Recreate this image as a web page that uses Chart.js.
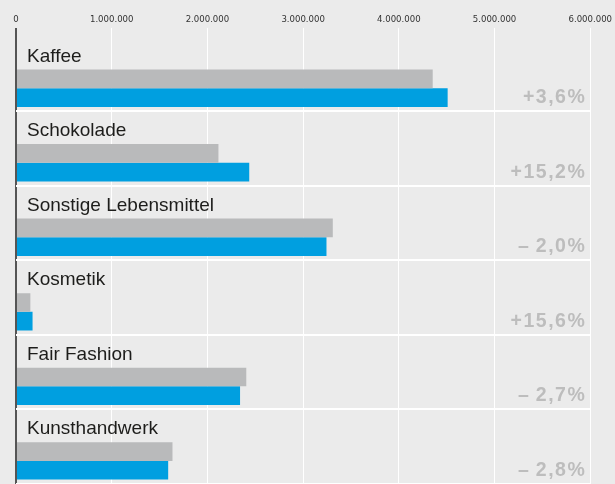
<!DOCTYPE html>
<html lang="de">
<head>
<meta charset="utf-8">
<title>Umsatz nach Produktgruppen</title>
<script src="https://cdn.jsdelivr.net/npm/chart.js@4.4.1/dist/chart.umd.min.js"></script>
<style>
	html, body { margin: 0; padding: 0; background: #ebebeb; }
	#wrap { position: relative; width: 615px; height: 484px; }
</style>
</head>
<body>
<div id="wrap"><canvas id="barChart"></canvas></div>
<script>
'use strict';

// Produktgruppen
var categories = ['Kaffee', 'Schokolade', 'Sonstige Lebensmittel', 'Kosmetik', 'Fair Fashion', 'Kunsthandwerk'];
// Vorjahr (grau) und aktuelles Jahr (blau)
var valuesPrev = [4354000, 2115000, 3310000, 150000, 2406000, 1635000];
var valuesCurr = [4510000, 2437000, 3244000, 173000, 2341000, 1590000];
// Veränderung in Prozent
var changes = [3.6, 15.2, -2.0, 15.6, -2.7, -2.8];
var tickValues = [0, 1000000, 2000000, 3000000, 4000000, 5000000, 6000000];

function formatNumber(value)
{
	return String(value).replace(/\B(?=(\d{3})+(?!\d))/g, '.');
}

function formatChange(value)
{
	var txt = Math.abs(value).toFixed(1).replace('.', ',') + '%';
	return (value > 0 ? '+' : '\u2013\u2009') + txt;
}

// category names at the top of each row, change in percent at the bottom right
var rowLabels =
{
	id: 'rowLabels',
	afterDatasetsDraw: function(chart)
	{
		var ctx = chart.ctx;
		var yScale = chart.scales.y;
		var area = chart.chartArea;
		ctx.save();

		ctx.font = '19px "Liberation Sans", Arial, sans-serif';
		ctx.fillStyle = '#1d1d1b';
		ctx.textAlign = 'left';
		ctx.textBaseline = 'alphabetic';
		categories.forEach(function(name, i)
		{
			ctx.fillText(name, area.left + 11, yScale.getPixelForValue(i) - 12.5);
		});

		ctx.font = 'bold 19.5px "Liberation Sans", Arial, sans-serif';
		ctx.fillStyle = '#bdbdbd';
		ctx.textAlign = 'right';
		if ('letterSpacing' in ctx) ctx.letterSpacing = '1.5px';
		changes.forEach(function(v, i)
		{
			ctx.fillText(formatChange(v), area.right - 4, yScale.getPixelForValue(i) + 29);
		});
		ctx.restore();
	}
};

// two empty spacer datasets push the bar pair towards the lower part of each row
var spacer = { data: [], backgroundColor: 'transparent', categoryPercentage: 1, barPercentage: 1 };

var barChartData =
{
	labels: categories,
	datasets: [
		Object.assign({ label: 'a' }, spacer),
		Object.assign({ label: 'b' }, spacer),
		{
			label              : 'Vorjahr',
			data               : valuesPrev,
			backgroundColor    : '#b9babb',
			categoryPercentage : 0.513,
			barPercentage      : 1.958
		},
		{
			label              : 'Aktuell',
			data               : valuesCurr,
			backgroundColor    : '#009fe0',
			categoryPercentage : 0.841,
			barPercentage      : 1.195
		}
	]
};

var barChartOptions =
{
	indexAxis          : 'y',
	responsive         : true,
	maintainAspectRatio: false,
	animation          : false,
	layout: { padding: { top: 10.5, right: 23, bottom: -2, left: 16 } },
	plugins:
	{
		legend : { display: false },
		tooltip: { enabled: false }
	},
	scales:
	{
		x:
		{
			position: 'top',
			min     : 0,
			max     : 6000000,
			afterBuildTicks: function(axis)
			{
				axis.ticks = tickValues.map(function(v) { return { value: v }; });
			},
			border: { display: false },
			grid:
			{
				color     : function(c) { return c.index === 0 ? '#555555' : '#ffffff'; },
				lineWidth : function(c) { return c.index === 0 ? 2 : 1; },
				tickLength: 9
			},
			ticks:
			{
				padding : 3,
				color   : '#333333',
				font    : { family: '"Liberation Sans Narrow", "DejaVu Sans Condensed", "Roboto Condensed", sans-serif', size: 9.5 },
				maxRotation: 0,
				callback: function(value) { return formatNumber(value); }
			}
		},
		y:
		{
			border: { display: false },
			grid:
			{
				color    : function(c) { return c.index === 0 ? 'transparent' : '#ffffff'; },
				lineWidth: 2,
				drawTicks: false
			},
			ticks: { display: false }
		}
	}
};

var barChartCanvas = document.getElementById('barChart').getContext('2d');
new Chart(barChartCanvas, { type: 'bar', data: barChartData, options: barChartOptions, plugins: [rowLabels] });
</script>
</body>
</html>
